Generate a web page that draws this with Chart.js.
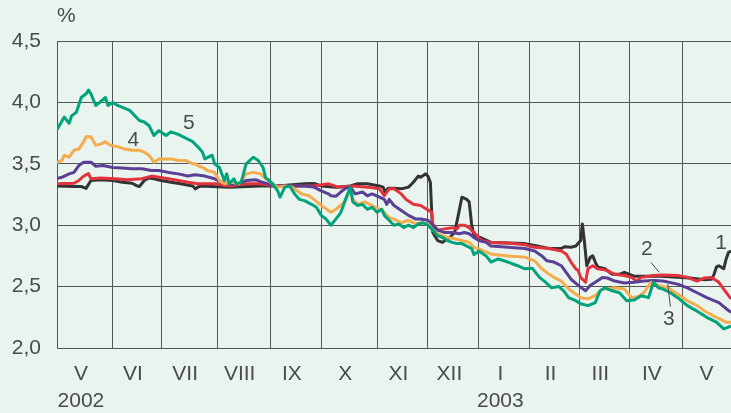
<!DOCTYPE html>
<html>
<head>
<meta charset="utf-8">
<script src="https://cdn.jsdelivr.net/npm/chart.js@4.4.1/dist/chart.umd.min.js"></script>
<style>
  html, body { margin: 0; padding: 0; background: #eaf4ef; }
  #wrap { width: 731px; height: 413px; }
</style>
</head>
<body>
<div id="wrap"><canvas id="c" width="731" height="413"></canvas></div>
<script>
// x is counted in trading days from the start of May 2002
const monthEdges = [0, 23, 43, 66, 88, 109, 132, 153, 174, 195, 215.5, 236, 258, 281];
const monthNames = ['V', 'VI', 'VII', 'VIII', 'IX', 'X', 'XI', 'XII', 'I', 'II', 'III', 'IV', 'V'];
const yearNames = ['2002', '', '', '', '', '', '', '', '2003', '', '', '', ''];
const lastDay = 278;
const yTicks = [2.0, 2.5, 3.0, 3.5, 4.0, 4.5];

// series 1
const s1Days = [0, 7, 10, 12, 14, 18, 23, 27, 31, 33, 34, 36, 38, 40, 43, 47, 51, 56, 57, 59, 71, 84, 91, 102, 106, 109, 115, 121, 124, 128, 133, 134.5, 135.3, 136.5, 139, 142, 145, 147, 149, 150, 152, 153, 154, 154.5, 155, 157, 159, 160, 162, 164, 165.5, 167, 169, 170, 171, 172, 174.5, 179, 186, 193, 197, 203, 208, 209.5, 212, 214, 216, 216.7, 217.5, 218.5, 220, 221, 222, 223, 226, 229, 232, 234, 238, 249, 261, 267, 270, 271, 272, 273, 275, 276, 277, 278];
const s1 = [3.32, 3.315, 3.315, 3.30, 3.364, 3.37, 3.364, 3.35, 3.342, 3.32, 3.315, 3.364, 3.385, 3.378, 3.364, 3.35, 3.337, 3.32, 3.296, 3.32, 3.31, 3.32, 3.32, 3.337, 3.34, 3.32, 3.31, 3.32, 3.337, 3.337, 3.32, 3.31, 3.27, 3.30, 3.30, 3.296, 3.31, 3.35, 3.40, 3.39, 3.418, 3.40, 3.35, 3.13, 2.94, 2.875, 2.86, 2.875, 2.90, 2.94, 3.08, 3.228, 3.21, 3.19, 3.01, 2.915, 2.90, 2.86, 2.855, 2.85, 2.835, 2.81, 2.81, 2.825, 2.82, 2.83, 2.875, 3.01, 2.875, 2.67, 2.74, 2.75, 2.70, 2.66, 2.645, 2.60, 2.60, 2.616, 2.585, 2.585, 2.57, 2.555, 2.56, 2.60, 2.66, 2.67, 2.645, 2.725, 2.78, 2.79];

// series 2
const s2Days = [0, 7, 9, 11, 13, 14, 18, 24, 29, 35, 39, 42, 46, 50, 54, 58, 65, 71, 78, 84, 90, 98, 106, 112, 116, 122, 128, 133, 135, 137, 139, 142, 144, 147, 150, 152.5, 154.5, 155, 157, 160, 163, 165, 166, 168, 170, 171, 173, 175, 179, 186, 193, 197, 203, 208, 210, 212, 214, 215, 216, 218, 219, 221, 223, 225, 227, 230, 234, 237, 239, 241, 246, 250, 256, 260, 264, 267, 270, 273, 275, 277, 278];
const s2 = [3.337, 3.342, 3.364, 3.40, 3.42, 3.378, 3.385, 3.378, 3.37, 3.378, 3.40, 3.39, 3.378, 3.364, 3.35, 3.337, 3.337, 3.32, 3.337, 3.337, 3.32, 3.32, 3.32, 3.337, 3.31, 3.32, 3.31, 3.296, 3.24, 3.296, 3.296, 3.255, 3.21, 3.17, 3.16, 3.13, 3.105, 3.01, 2.96, 2.97, 2.98, 2.97, 3.00, 3.00, 2.98, 2.96, 2.92, 2.875, 2.86, 2.855, 2.84, 2.82, 2.81, 2.79, 2.765, 2.70, 2.645, 2.63, 2.575, 2.535, 2.645, 2.67, 2.645, 2.64, 2.63, 2.60, 2.59, 2.575, 2.545, 2.575, 2.59, 2.595, 2.59, 2.575, 2.545, 2.57, 2.575, 2.535, 2.48, 2.426, 2.40];

// series 3
const s3Days = [0, 2, 5, 7, 9, 11, 14, 16, 19, 23, 27, 31, 35, 39, 42, 46, 50, 54, 57, 61, 65, 68, 71, 75, 78, 82, 84, 87, 90, 94, 98, 102, 106, 109, 112, 113, 115, 117, 119, 121, 123, 126, 128, 130, 133, 135, 136, 137, 139, 142, 145, 148, 150, 153, 155, 157, 160, 163, 166, 168, 170, 172, 174, 177, 179, 186, 193, 197, 200, 202, 205, 208, 210, 212, 215, 218, 220, 222, 225, 227, 230, 234, 238, 242, 246, 250, 256, 260, 264, 268, 273, 276, 278];
const s3 = [3.38, 3.39, 3.418, 3.43, 3.486, 3.513, 3.513, 3.48, 3.486, 3.47, 3.465, 3.46, 3.46, 3.445, 3.445, 3.43, 3.418, 3.40, 3.41, 3.40, 3.378, 3.35, 3.337, 3.337, 3.364, 3.37, 3.355, 3.337, 3.32, 3.32, 3.32, 3.32, 3.31, 3.28, 3.255, 3.24, 3.235, 3.27, 3.30, 3.31, 3.255, 3.27, 3.24, 3.255, 3.228, 3.21, 3.17, 3.21, 3.16, 3.12, 3.08, 3.05, 3.05, 3.04, 3.00, 2.96, 2.94, 2.94, 2.93, 2.94, 2.93, 2.90, 2.875, 2.86, 2.83, 2.82, 2.81, 2.79, 2.75, 2.71, 2.70, 2.67, 2.616, 2.56, 2.51, 2.466, 2.51, 2.535, 2.575, 2.57, 2.545, 2.53, 2.535, 2.545, 2.55, 2.545, 2.52, 2.49, 2.45, 2.41, 2.37, 2.32, 2.29];

// series 4
const s4Days = [0, 2, 3, 5, 7, 9, 11, 12, 14, 16, 18, 20, 22, 25, 28, 31, 34, 36, 38, 40, 42, 45, 47, 50, 53, 56, 57, 58, 60, 61, 62, 65, 67, 69, 72, 75, 78, 81, 84, 86, 89, 91, 94, 97, 99, 101, 104, 106, 109, 112, 113, 115, 117, 119, 121, 122, 124, 127, 130, 133, 135, 137, 139, 142, 145, 148, 150, 153, 156, 159, 161, 164, 167, 170, 172, 175, 179, 186, 193, 197, 200, 203, 205, 208, 211, 214, 216, 219, 222, 225, 227, 230, 234, 237, 240, 242, 245, 248, 252, 256, 260, 264, 268, 272, 276, 278];
const s4 = [3.51, 3.527, 3.568, 3.554, 3.61, 3.62, 3.68, 3.72, 3.72, 3.65, 3.66, 3.68, 3.65, 3.64, 3.62, 3.61, 3.61, 3.595, 3.568, 3.513, 3.54, 3.54, 3.54, 3.527, 3.527, 3.50, 3.50, 3.486, 3.47, 3.46, 3.445, 3.43, 3.364, 3.337, 3.35, 3.337, 3.418, 3.43, 3.418, 3.378, 3.337, 3.31, 3.32, 3.31, 3.28, 3.255, 3.24, 3.21, 3.16, 3.12, 3.105, 3.13, 3.16, 3.20, 3.29, 3.21, 3.17, 3.19, 3.16, 3.13, 3.105, 3.06, 3.05, 3.02, 3.04, 3.01, 3.02, 3.01, 2.94, 2.915, 2.90, 2.89, 2.875, 2.86, 2.82, 2.80, 2.765, 2.75, 2.74, 2.71, 2.645, 2.60, 2.575, 2.545, 2.48, 2.44, 2.41, 2.40, 2.426, 2.48, 2.48, 2.49, 2.48, 2.41, 2.42, 2.45, 2.535, 2.51, 2.49, 2.44, 2.385, 2.345, 2.29, 2.25, 2.21, 2.21];

// series 5
const s5Days = [0, 3, 5, 6, 8, 10, 12, 13, 14, 16, 17, 20, 21, 23, 25, 27, 30, 32, 34, 36, 38, 40, 42, 45, 47, 50, 53, 56, 58, 60, 61, 64, 65, 67, 69, 70, 71, 73, 74, 76, 78, 81, 83, 85, 86, 89, 91, 92, 94, 96, 98, 100, 102, 105, 107, 109, 111, 113, 115, 117, 119, 121, 122, 124, 126, 128, 130, 132, 134, 135, 137, 139, 141, 143, 145, 147, 149, 151, 153, 155, 157, 159, 161, 163, 165, 167, 169, 171, 172, 174, 177, 179, 182, 186, 190, 193, 196, 199, 201, 204, 207, 209, 211, 214, 216, 219, 222, 224, 226, 229, 232, 235, 238, 241, 244, 246, 248, 250, 253, 256, 260, 264, 268, 272, 275, 277, 278];
const s5 = [3.78, 3.88, 3.83, 3.89, 3.92, 4.04, 4.07, 4.10, 4.07, 3.975, 3.99, 4.04, 3.975, 4.00, 3.975, 3.96, 3.935, 3.894, 3.853, 3.84, 3.81, 3.73, 3.77, 3.73, 3.76, 3.74, 3.71, 3.68, 3.64, 3.595, 3.54, 3.57, 3.50, 3.47, 3.364, 3.418, 3.337, 3.378, 3.337, 3.35, 3.50, 3.554, 3.527, 3.47, 3.39, 3.337, 3.28, 3.228, 3.31, 3.32, 3.255, 3.21, 3.20, 3.17, 3.146, 3.08, 3.05, 3.00, 3.05, 3.10, 3.21, 3.31, 3.19, 3.16, 3.17, 3.13, 3.146, 3.105, 3.13, 3.08, 3.04, 3.00, 3.01, 2.98, 3.00, 2.98, 3.01, 3.02, 3.00, 2.96, 2.915, 2.90, 2.875, 2.86, 2.85, 2.85, 2.83, 2.81, 2.76, 2.79, 2.75, 2.70, 2.725, 2.70, 2.67, 2.645, 2.65, 2.575, 2.545, 2.49, 2.50, 2.466, 2.41, 2.385, 2.36, 2.345, 2.37, 2.466, 2.49, 2.466, 2.45, 2.385, 2.39, 2.426, 2.41, 2.535, 2.49, 2.48, 2.45, 2.41, 2.345, 2.30, 2.25, 2.21, 2.155, 2.17, 2.18];

const TEXT = '#4a4a4a';
const FONT = { family: 'Liberation Sans, Arial, sans-serif', size: 21 };

function pts(days, vals) {
  return days.map((d, i) => ({ x: d, y: vals[i] }));
}

function line(label, days, vals, color, order) {
  return {
    label: label,
    data: pts(days, vals),
    borderColor: color,
    borderWidth: 3,
    pointRadius: 0,
    tension: 0,
    borderJoinStyle: 'round',
    order: order
  };
}

const monthMids = monthNames.map((m, i) => (monthEdges[i] + monthEdges[i + 1]) / 2);

// series numbers and the two small pointer lines
const notes = {
  id: 'notes',
  afterDatasetsDraw(chart) {
    const { ctx, scales: { x, y }, chartArea } = chart;
    ctx.save();
    ctx.fillStyle = TEXT;
    ctx.strokeStyle = TEXT;
    ctx.font = FONT.size + 'px ' + FONT.family;
    ctx.textAlign = 'left';
    ctx.textBaseline = 'middle';
    ctx.fillText('%', chartArea.left, 16);

    ctx.textAlign = 'center';
    const tags = [['1', 273.9, 2.854], ['2', 243.3, 2.801], ['3', 252.4, 2.238], ['4', 31.5, 3.69], ['5', 54.4, 3.829]];
    tags.forEach(t => ctx.fillText(t[0], x.getPixelForValue(t[1]), y.getPixelForValue(t[2])));

    ctx.lineWidth = 1;
    const leaders = [[245.0, 2.697, 248.4, 2.616], [251.9, 2.521, 253.0, 2.336]];
    leaders.forEach(l => {
      ctx.beginPath();
      ctx.moveTo(x.getPixelForValue(l[0]), y.getPixelForValue(l[1]));
      ctx.lineTo(x.getPixelForValue(l[2]), y.getPixelForValue(l[3]));
      ctx.stroke();
    });
    ctx.restore();
  }
};

new Chart(document.getElementById('c'), {
  type: 'line',
  data: {
    datasets: [
      line('1', s1Days, s1, '#333333', 5),
      line('2', s2Days, s2, '#e4323c', 4),
      line('3', s3Days, s3, '#5a3f95', 3),
      line('4', s4Days, s4, '#f5ac4c', 2),
      line('5', s5Days, s5, '#00a37b', 1)
    ]
  },
  options: {
    responsive: false,
    animation: false,
    layout: { padding: { top: 41, right: 0, bottom: 0, left: 0 } },
    plugins: {
      legend: { display: false },
      tooltip: { enabled: false }
    },
    scales: {
      x: {
        type: 'linear',
        min: 0,
        max: lastDay,
        position: 'bottom',
        afterBuildTicks: s => { s.ticks = monthEdges.filter(v => v <= lastDay).map(v => ({ value: v })); },
        afterFit: s => { s.height = 0; s.paddingLeft = 0; s.paddingRight = 0; },
        ticks: { display: false },
        grid: { color: '#555555', lineWidth: 1, drawTicks: false },
        border: { display: false }
      },
      months: {
        type: 'linear',
        min: 0,
        max: lastDay,
        position: 'bottom',
        afterBuildTicks: s => { s.ticks = monthMids.map(v => ({ value: v })); },
        afterFit: s => { s.height = 65; s.paddingLeft = 0; s.paddingRight = 0; },
        grid: { display: false, drawTicks: false },
        border: { display: false },
        ticks: {
          autoSkip: false,
          maxRotation: 0,
          padding: 12,
          labelOffset: -4,
          color: TEXT,
          font: { family: FONT.family, size: FONT.size, lineHeight: 1.32 },
          callback: (v, i) => yearNames[i] ? [monthNames[i], yearNames[i]] : monthNames[i]
        }
      },
      y: {
        min: 2,
        max: 4.5,
        afterBuildTicks: s => { s.ticks = yTicks.map(v => ({ value: v })); },
        afterFit: s => { s.width = 57; s.paddingTop = 0; s.paddingBottom = 0; },
        grid: { color: '#555555', lineWidth: 1, drawTicks: false },
        border: { display: false },
        ticks: {
          padding: 16,
          color: TEXT,
          font: FONT,
          callback: v => v.toFixed(1).replace('.', ',')
        }
      }
    }
  },
  plugins: [notes]
});
</script>
</body>
</html>
